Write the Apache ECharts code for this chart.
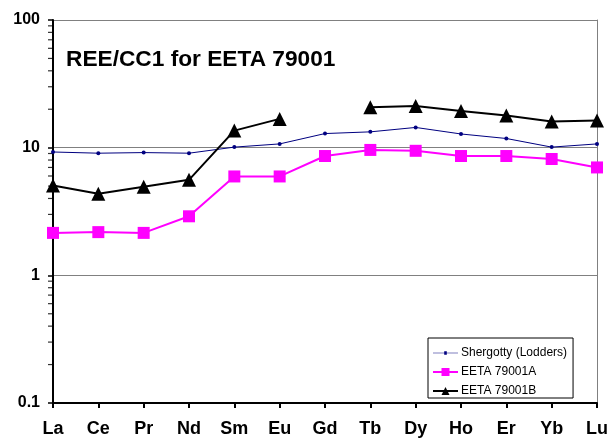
<!DOCTYPE html>
<html>
<head>
<meta charset="utf-8">
<script src="https://cdn.jsdelivr.net/npm/echarts@6/dist/echarts.min.js"></script>
<style>
  html, body { margin: 0; padding: 0; background: #fff; }
  #chart { width: 611px; height: 441px; }
</style>
</head>
<body>
<div id="chart"></div>
<script>
// Rare earth elements, chondrite (CC1) normalised
const elements = ['La', 'Ce', 'Pr', 'Nd', 'Sm', 'Eu', 'Gd', 'Tb', 'Dy', 'Ho', 'Er', 'Yb', 'Lu'];

const shergotty = [9.25, 9.05, 9.15, 9.05, 10.1, 10.7, 12.9, 13.3, 14.4, 12.8, 11.8, 10.1, 10.7];
const eeta79001A = [2.15, 2.18, 2.15, 2.9, 5.95, 5.95, 8.6, 9.6, 9.45, 8.6, 8.6, 8.15, 7.0];
const eeta79001B = [5.05, 4.35, 4.95, 5.6, 13.6, 16.8, null, 20.7, 21.2, 19.4, 17.9, 16.0, 16.3];

// Minor tick values for the logarithmic axis (2..9 within each decade)
const minorTickValues = [0.2, 0.3, 0.4, 0.5, 0.6, 0.7, 0.8, 0.9,
                         2, 3, 4, 5, 6, 7, 8, 9,
                         20, 30, 40, 50, 60, 70, 80, 90];

const FONT = '"Liberation Sans", Arial, Helvetica, sans-serif';

const chart = echarts.init(document.getElementById('chart'), null, { renderer: 'canvas' });

chart.setOption({
  animation: false,
  backgroundColor: '#ffffff',
  title: {
    text: 'REE/CC1 for EETA 79001',
    left: 61,
    top: 43,
    textStyle: { fontFamily: FONT, fontSize: 22.7, fontWeight: 'bold', color: '#000' }
  },
  grid: { left: 53, right: 14, top: 20, bottom: 38 },
  legend: {
    data: [
      // thin line with a small dot, like the series itself
      { name: 'Shergotty (Lodders)', icon: 'path://M0,1.4H25V2.1H0Z M11.2,0H13.8V3.5H11.2Z' },
      { name: 'EETA 79001A' },
      { name: 'EETA 79001B' }
    ],
    orient: 'vertical',
    left: 428,
    top: 338,
    itemWidth: 25,
    itemHeight: 10,
    itemGap: 7,
    padding: [9, 6, 1, 4],
    borderColor: '#000',
    borderWidth: 1,
    backgroundColor: '#fff',
    textStyle: { fontFamily: FONT, fontSize: 12, color: '#000', padding: [0, 0, 0, -2] }
  },
  xAxis: {
    type: 'category',
    data: elements,
    boundaryGap: false,
    axisLine: { lineStyle: { color: '#000', width: 2 } },
    axisTick: { show: true, length: 5, lineStyle: { color: '#000', width: 2 } },
    axisLabel: {
      fontFamily: FONT, fontSize: 18, fontWeight: 'bold', color: '#000', margin: 17
    },
    splitLine: { show: false }
  },
  yAxis: [
    {
      type: 'log',
      logBase: 10,
      min: 0.1,
      max: 100,
      axisLine: { show: true, lineStyle: { color: '#000', width: 2 } },
      axisTick: { show: true, length: 5, lineStyle: { color: '#000', width: 1.5 } },
      axisLabel: {
        fontFamily: FONT, fontSize: 16, fontWeight: 'bold', color: '#000', margin: 13,
        formatter: v => String(Number(v.toPrecision(3)))
      },
      splitLine: { show: true, lineStyle: { color: '#808080', width: 1 } }
    },
    {
      type: 'log',
      logBase: 10,
      min: 0.1,
      max: 100,
      position: 'right',
      axisLine: { show: true, lineStyle: { color: '#808080', width: 1 } },
      axisTick: { show: false },
      axisLabel: { show: false },
      splitLine: { show: false }
    }
  ],
  series: [
    {
      name: 'minor ticks',
      type: 'scatter',
      silent: true,
      z: 1,
      symbol: 'rect',
      symbolSize: [4, 1.2],
      symbolOffset: [-3, 0],
      itemStyle: { color: '#000' },
      data: minorTickValues.map(v => [elements[0], v])
    },
    {
      name: 'Shergotty (Lodders)',
      type: 'line',
      data: shergotty,
      symbol: 'circle',
      symbolSize: 4,
      lineStyle: { color: '#000080', width: 1 },
      itemStyle: { color: '#000080' },
      z: 3
    },
    {
      name: 'EETA 79001A',
      type: 'line',
      data: eeta79001A,
      symbol: 'rect',
      symbolSize: 12,
      lineStyle: { color: '#ff00ff', width: 2 },
      itemStyle: { color: '#ff00ff' },
      z: 4
    },
    {
      name: 'EETA 79001B',
      type: 'line',
      data: eeta79001B,
      connectNulls: false,
      symbol: 'triangle',
      symbolSize: 14,
      lineStyle: { color: '#000', width: 2 },
      itemStyle: { color: '#000' },
      z: 5
    }
  ]
});
</script>
</body>
</html>
